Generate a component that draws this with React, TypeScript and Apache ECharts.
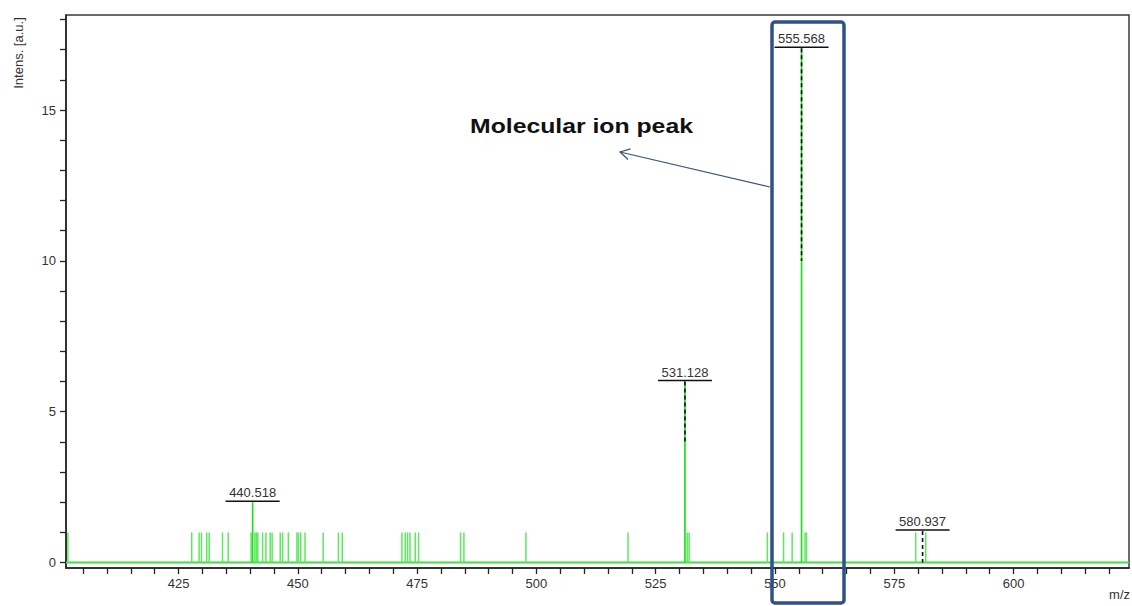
import React, { useEffect, useRef } from "react";
import * as echarts from "echarts";

// m/z axis range and ticks
const xMin = 401.4;
const xMax = 624.2;
const xTickValues = [405, 410, 415, 420, 425, 430, 435, 440, 445, 450, 455, 460, 465, 470, 475, 480, 485, 490, 495, 500, 505, 510, 515, 520, 525, 530, 535, 540, 545, 550, 555, 560, 565, 570, 575, 580, 585, 590, 595, 600, 605, 610, 615, 620];
const xLabelValues = [425, 450, 475, 500, 525, 550, 575, 600];

// intensity axis
const yMin = -0.18;
const yMax = 18.15;
const yTickValues = [0, 1, 2, 3, 4, 5, 6, 7, 8, 9, 10, 11, 12, 13, 14, 15, 16, 17, 18];
const yLabelValues = [0, 5, 10, 15];

// peaks (m/z, intensity)
const peakMz = [
  401.8, 427.75, 429.3, 429.8, 430.9, 431.4, 434.2, 435.4, 440.2, 440.518,
  441.0, 441.3, 441.6, 442.6, 443.3, 444.2, 444.6, 446.3, 446.8, 448.0,
  449.8, 450.1, 450.6, 451.5, 455.3, 458.5, 459.3, 471.8, 472.5, 473.0,
  473.5, 474.6, 475.3, 484.1, 484.8, 497.8, 519.2, 531.128, 531.6, 532.0,
  548.4, 551.8, 553.6, 555.568, 556.3, 556.6, 579.5, 581.6,
];
const peakIntensity = [
  1.0, 1.0, 1.0, 1.0, 1.0, 1.0, 1.0, 1.0, 1.0, 2.0,
  1.0, 1.0, 1.0, 1.0, 1.0, 1.0, 1.0, 1.0, 1.0, 1.0,
  1.0, 1.0, 1.0, 1.0, 1.0, 1.0, 1.0, 1.0, 1.0, 1.0,
  1.0, 1.0, 1.0, 1.0, 1.0, 1.0, 1.0, 6.0, 1.0, 1.0,
  1.0, 1.0, 1.0, 17.05, 1.0, 1.0, 1.0, 1.0,
];

// labelled peaks
const labelMz = [440.518, 531.128, 555.568, 580.937];
const labelIntensity = [2.0, 6.0, 17.05, 1.05];
const labelDashTo = [null, 4.0, 10.0, 0];

const FONT = "'Liberation Sans', Arial, sans-serif";

export default function App() {
  const ref = useRef<HTMLDivElement>(null);

  useEffect(() => {
    if (!ref.current) return;
    const chart = echarts.init(ref.current, undefined, { renderer: "svg" });

    const peakData = peakMz.map((m, i) => [m, peakIntensity[i]]);
    const labelData = labelMz.map((m, i) => [m, labelIntensity[i], labelDashTo[i] === null ? -999 : labelDashTo[i]]);

    // arrow geometry (annotation)
    const tip = [620, 152];
    const tail = [770, 187];
    const dx = tail[0] - tip[0];
    const dy = tail[1] - tip[1];
    const len = Math.hypot(dx, dy);
    const ux = dx / len, uy = dy / len;
    const px = -uy, py = ux;
    const arm = 11;
    const c = Math.cos(Math.PI / 6), s = Math.sin(Math.PI / 6);
    const a1 = [tip[0] + arm * (c * ux + s * px), tip[1] + arm * (c * uy + s * py)];
    const a2 = [tip[0] + arm * (c * ux - s * px), tip[1] + arm * (c * uy - s * py)];

    chart.setOption({
      animation: false,
      backgroundColor: "#ffffff",
      grid: {
        left: 66,
        right: 3,
        top: 15,
        bottom: 38,
        show: true,
        borderColor: "#3a3a3a",
        borderWidth: 1.5,
      },
      xAxis: {
        type: "value",
        min: xMin,
        max: xMax,
        axisLine: { show: true, onZero: false, lineStyle: { color: "#222", width: 1.5 } },
        axisTick: {
          show: true,
          customValues: xTickValues,
          length: 6,
          lineStyle: { color: "#222", width: 1.3 },
        },
        axisLabel: {
          customValues: xLabelValues,
          margin: 9,
          color: "#333",
          fontSize: 13,
          fontFamily: FONT,
        },
        splitLine: { show: false },
      },
      yAxis: {
        type: "value",
        min: yMin,
        max: yMax,
        axisLine: { show: true, onZero: false, lineStyle: { color: "#222", width: 1.5 } },
        axisTick: {
          show: true,
          customValues: yTickValues,
          length: 6,
          lineStyle: { color: "#222", width: 1.3 },
        },
        axisLabel: {
          customValues: yLabelValues,
          margin: 10,
          color: "#333",
          fontSize: 13,
          fontFamily: FONT,
        },
        splitLine: { show: false },
      },
      series: [
        {
          type: "line",
          data: [[xMin, 0], [xMax, 0]],
          symbol: "none",
          lineStyle: { color: "#3ee03e", width: 2 },
          z: 2,
        },
        {
          type: "custom",
          data: peakData,
          encode: { x: 0, y: 1 },
          z: 3,
          renderItem: (params: any, api: any) => {
            const x = api.value(0);
            const h = api.value(1);
            const p0 = api.coord([x, 0]);
            const p1 = api.coord([x, h]);
            const tall = h > 1.5;
            return {
              type: "line",
              shape: { x1: p0[0], y1: p0[1], x2: p1[0], y2: p1[1] },
              style: { stroke: tall ? "#1fdf1f" : "#5ee85e", lineWidth: tall ? 1.7 : 1.5 },
            };
          },
        },
        {
          type: "custom",
          data: labelData,
          encode: { x: 0, y: 1 },
          z: 5,
          renderItem: (params: any, api: any) => {
            const x = api.value(0);
            const h = api.value(1);
            const d = api.value(2);
            const p1 = api.coord([x, h]);
            const children: any[] = [
              {
                type: "text",
                x: p1[0],
                y: p1[1] - 3,
                style: {
                  text: x.toFixed(3),
                  fill: "#333",
                  fontSize: 13,
                  fontFamily: FONT,
                  align: "center",
                  verticalAlign: "bottom",
                },
              },
              {
                type: "line",
                shape: { x1: p1[0] - 27, y1: p1[1] - 1, x2: p1[0] + 27, y2: p1[1] - 1 },
                style: { stroke: "#111", lineWidth: 1.5 },
              },
            ];
            if (d > -100) {
              const p2 = api.coord([x, d]);
              children.push({
                type: "line",
                shape: { x1: p1[0], y1: p1[1], x2: p2[0], y2: p2[1] },
                style: { stroke: "#111", lineWidth: 1.6, lineDash: [4, 3] },
              });
            }
            return { type: "group", children };
          },
        },
      ],
      graphic: [
        {
          type: "text",
          x: 18,
          y: 53,
          rotation: Math.PI / 2,
          style: {
            text: "Intens. [a.u.]",
            fill: "#333",
            fontSize: 13,
            fontFamily: FONT,
            align: "center",
            verticalAlign: "middle",
          },
        },
        {
          type: "text",
          x: 1130,
          y: 594,
          style: {
            text: "m/z",
            fill: "#333",
            fontSize: 13,
            fontFamily: FONT,
            align: "right",
            verticalAlign: "middle",
          },
        },
        {
          type: "text",
          x: 470,
          y: 126,
          scaleX: 1.18,
          style: {
            text: "Molecular ion peak",
            fill: "#111",
            fontSize: 21,
            fontWeight: "bold",
            fontFamily: FONT,
            align: "left",
            verticalAlign: "middle",
          },
          z: 100,
        },
        {
          type: "rect",
          shape: { x: 772, y: 22, width: 72, height: 581, r: 3 },
          style: { fill: "none", stroke: "#2f5088", lineWidth: 3.5 },
          z: 100,
        },
        {
          type: "line",
          shape: { x1: tip[0], y1: tip[1], x2: tail[0], y2: tail[1] },
          style: { stroke: "#3a5574", lineWidth: 1.2 },
          z: 100,
        },
        {
          type: "polyline",
          shape: { points: [a1, tip, a2] },
          style: { stroke: "#3a5574", lineWidth: 1.2, fill: "none" },
          z: 100,
        },
      ],
    });

    return () => {
      chart.dispose();
    };
  }, []);

  return (
    <div
      ref={ref}
      style={{ position: "absolute", left: 0, top: 0, width: 1132, height: 606, background: "#fff" }}
    />
  );
}
